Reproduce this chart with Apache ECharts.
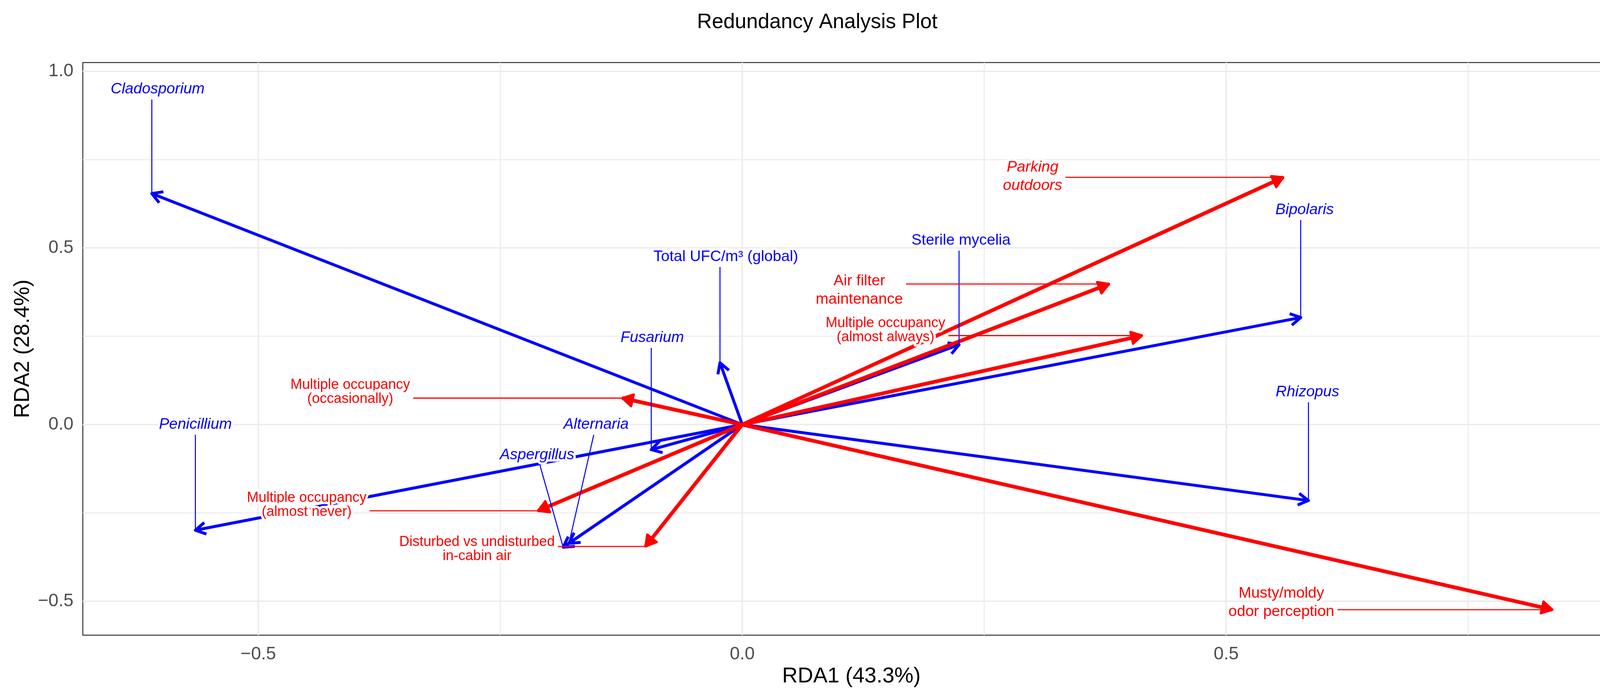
<!DOCTYPE html>
<html>
<head>
<meta charset="utf-8">
<title>Redundancy Analysis Plot</title>
<script src="https://cdn.jsdelivr.net/npm/echarts@6/dist/echarts.min.js"></script>
<style>
	html, body { margin: 0; padding: 0; background: #fff; }
	#chart { width: 4184px; height: 1773px; }
</style>
</head>
<body>
<div id="chart"></div>
<script>
	// species scores (blue arrows)
	var speciesNames = ['Cladosporium', 'Penicillium', 'Aspergillus', 'Alternaria', 'Fusarium',
		'Total UFC/m\u00b3 (global)', 'Sterile mycelia', 'Bipolaris', 'Rhizopus'];
	var speciesRDA1 = [-0.610, -0.565, -0.185, -0.179, -0.094, -0.023, 0.224, 0.577, 0.585];
	var speciesRDA2 = [0.654, -0.299, -0.347, -0.336, -0.071, 0.175, 0.226, 0.303, -0.215];
	// where the repelled labels ended up, in axis units
	var speciesLabelRDA1 = [-0.604, -0.565, -0.212, -0.151, -0.093, -0.017, 0.226, 0.581, 0.584];
	var speciesLabelRDA2 = [0.949, 0.000, -0.086, 0.000, 0.246, 0.475, 0.521, 0.608, 0.092];

	// explanatory variables (red arrows)
	var envNames = ['Parking\noutdoors', 'Air filter\nmaintenance', 'Multiple occupancy\n(almost always)',
		'Multiple occupancy\n(occasionally)', 'Multiple occupancy\n(almost never)',
		'Disturbed vs undisturbed\nin-cabin air', 'Musty/moldy\nodor perception'];
	var envRDA1 = [0.559, 0.379, 0.413, -0.124, -0.211, -0.100, 0.837];
	var envRDA2 = [0.700, 0.398, 0.252, 0.075, -0.244, -0.345, -0.524];
	var envLabelRDA1 = [0.300, 0.121, 0.148, -0.405, -0.450, -0.274, 0.557];
	var envLabelRDA2 = [0.702, 0.380, 0.267, 0.092, -0.228, -0.353, -0.504];

	// axes
	var xMajor = [-0.5, 0, 0.5];
	var xMinor = [-0.25, 0.25, 0.75];
	var yMajor = [-0.5, 0, 0.5, 1.0];
	var yMinor = [-0.25, 0.25, 0.75];

	// label looks
	var uprightSpecies = ['Total UFC/m\u00b3 (global)', 'Sterile mycelia'];
	var italicEnv = ['Parking\noutdoors'];
	var compactEnv = ['Multiple occupancy\n(almost always)', 'Multiple occupancy\n(occasionally)',
		'Multiple occupancy\n(almost never)', 'Disturbed vs undisturbed\nin-cabin air'];
	var centreLinked = ['Aspergillus', 'Alternaria'];

	var FONT = '"Liberation Sans", Arial, Helvetica, sans-serif';
	var measureCtx = document.createElement('canvas').getContext('2d');

	function fmt(v) {
		return v.toFixed(1).replace('-', '\u2212');
	}

	function clamp(v, lo, hi) {
		return Math.max(lo, Math.min(hi, v));
	}

	function arrowRenderer(names, labelX, labelY, look) {
		return function (params, api) {
			var i = api.value(4);
			var name = names[i];
			var o = api.coord([0, 0]);
			var t = api.coord([api.value(0), api.value(1)]);
			var c = api.coord([labelX[i], labelY[i]]);
			var dx = t[0] - o[0], dy = t[1] - o[1];
			var len = Math.sqrt(dx * dx + dy * dy);
			var ux = -dx / len, uy = -dy / len;
			var ang = Math.PI / 6, L = look.headLen;
			function arm(s) {
				var ca = Math.cos(s * ang), sa = Math.sin(s * ang);
				return [t[0] + L * (ux * ca - uy * sa), t[1] + L * (ux * sa + uy * ca)];
			}
			var head = [arm(1), [t[0], t[1]], arm(-1)];

			// label box, to know where the connector leaves it
			var f = look.font(name);
			measureCtx.font = f.style + ' ' + f.size + 'px ' + FONT;
			var lines = name.split('\n');
			var w = 0;
			lines.forEach(function (ln) { w = Math.max(w, measureCtx.measureText(ln).width); });
			var hw = w / 2 + 8, hh = lines.length * f.lh / 2 + 4;

			var sx, sy;
			if (centreLinked.indexOf(name) >= 0) {
				var ex = t[0] - c[0], ey = t[1] - c[1];
				var s = Math.min(hw / Math.abs(ex || 1e-6), hh / Math.abs(ey || 1e-6));
				sx = c[0] + ex * s; sy = c[1] + ey * s;
			} else {
				sx = clamp(t[0], c[0] - hw, c[0] + hw);
				sy = clamp(t[1], c[1] - hh, c[1] + hh);
			}

			var children = [{
				type: 'line',
				z2: look.z2,
				shape: { x1: o[0], y1: o[1], x2: t[0], y2: t[1] },
				style: { stroke: look.color, lineWidth: look.shaft, lineCap: 'butt' }
			}];
			if (look.closed) {
				children.push({
					type: 'polygon', z2: look.z2 + 1,
					shape: { points: head },
					style: { fill: look.color, stroke: look.color, lineWidth: look.shaft * 0.6, lineJoin: 'round' }
				});
			} else {
				children.push({
					type: 'polyline', z2: look.z2 + 1,
					shape: { points: head },
					style: { fill: null, stroke: look.color, lineWidth: look.shaft, lineJoin: 'round', lineCap: 'butt' }
				});
			}
			children.push({
				type: 'line', z2: look.z2 + 20,
				shape: { x1: sx, y1: sy, x2: t[0], y2: t[1] },
				style: { stroke: look.color, lineWidth: look.link }
			});
			children.push({
				type: 'text', z2: look.z2 + 30,
				x: c[0], y: c[1],
				style: {
					text: name,
					fill: look.color,
					stroke: '#ffffff',
					lineWidth: 12,
					fontSize: f.size,
					fontStyle: f.style,
					fontFamily: FONT,
					lineHeight: f.lh,
					align: 'center',
					verticalAlign: 'middle'
				}
			});
			return { type: 'group', children: children };
		};
	}

	function arrowData(xs, ys, lx, ly) {
		return xs.map(function (x, i) { return [x, ys[i], lx[i], ly[i], i]; });
	}

	var blueLook = {
		color: '#0000ff', shaft: 7.5, link: 2.6, headLen: 30, closed: false, z2: 10,
		font: function (n) {
			return { size: 39, lh: 44, style: uprightSpecies.indexOf(n) >= 0 ? 'normal' : 'italic' };
		}
	};
	// red goes above blue
	var redLook = {
		color: '#ff0000', shaft: 9.5, link: 2.8, headLen: 31, closed: true, z2: 20,
		font: function (n) {
			var compact = compactEnv.indexOf(n) >= 0;
			return { size: compact ? 36 : 39, lh: compact ? 36 : 47, style: italicEnv.indexOf(n) >= 0 ? 'italic' : 'normal' };
		}
	};

	var gridData = [];
	xMajor.forEach(function (v) { gridData.push([v, 0, 1]); });
	xMinor.forEach(function (v) { gridData.push([v, 0, 0]); });
	yMajor.forEach(function (v) { gridData.push([v, 1, 1]); });
	yMinor.forEach(function (v) { gridData.push([v, 1, 0]); });

	var myChart = echarts.init(document.getElementById('chart'));

	var option = {
		backgroundColor: '#ffffff',
		animation: false,
		title: {
			text: 'Redundancy Analysis Plot',
			left: 'center',
			top: 26,
			textStyle: { fontFamily: FONT, fontSize: 53, fontWeight: 'normal', color: '#000000' }
		},
		grid: {
			left: 212, right: 37, top: 160, bottom: 148,
			outerBoundsMode: 'none',
			show: true,
			backgroundColor: '#ffffff',
			borderColor: '#333333',
			borderWidth: 2.5
		},
		xAxis: {
			type: 'value',
			min: -0.6813,
			max: 0.9068,
			name: 'RDA1 (43.3%)',
			nameLocation: 'middle',
			nameGap: 78,
			nameTextStyle: { fontFamily: FONT, fontSize: 55, color: '#000000' },
			axisLine: { show: false },
			axisTick: { show: true, length: 10, customValues: xMajor, lineStyle: { color: '#333333', width: 2.5 } },
			axisLabel: { customValues: xMajor, margin: 26, formatter: fmt, fontFamily: FONT, fontSize: 46, color: '#4d4d4d' },
			splitLine: { show: false }
		},
		yAxis: {
			type: 'value',
			min: -0.596,
			max: 1.0248,
			name: 'RDA2 (28.4%)',
			nameLocation: 'middle',
			nameRotate: 90,
			nameGap: 118,
			nameTextStyle: { fontFamily: FONT, fontSize: 55, color: '#000000' },
			axisLine: { show: false },
			axisTick: { show: true, length: 10, customValues: yMajor, lineStyle: { color: '#333333', width: 2.5 } },
			axisLabel: { customValues: yMajor, margin: 24, formatter: fmt, fontFamily: FONT, fontSize: 46, color: '#4d4d4d' },
			splitLine: { show: false }
		},
		series: [
			{
				name: 'panel grid',
				type: 'custom',
				silent: true,
				z: 1,
				data: gridData,
				renderItem: function (params, api) {
					var cs = params.coordSys;
					var v = api.value(0);
					var lw = api.value(2) === 1 ? 3.5 : 2.5;
					var shape;
					if (api.value(1) === 0) {
						var x = api.coord([v, 0])[0];
						shape = { x1: x, y1: cs.y, x2: x, y2: cs.y + cs.height };
					} else {
						var y = api.coord([0, v])[1];
						shape = { x1: cs.x, y1: y, x2: cs.x + cs.width, y2: y };
					}
					return { type: 'line', shape: shape, style: { stroke: '#ebebeb', lineWidth: lw } };
				}
			},
			{
				name: 'species',
				type: 'custom',
				silent: true,
				z: 2,
				data: arrowData(speciesRDA1, speciesRDA2, speciesLabelRDA1, speciesLabelRDA2),
				renderItem: arrowRenderer(speciesNames, speciesLabelRDA1, speciesLabelRDA2, blueLook)
			},
			{
				name: 'environment',
				type: 'custom',
				silent: true,
				z: 2,
				data: arrowData(envRDA1, envRDA2, envLabelRDA1, envLabelRDA2),
				renderItem: arrowRenderer(envNames, envLabelRDA1, envLabelRDA2, redLook)
			}
		]
	};

	myChart.setOption(option);
</script>
</body>
</html>
